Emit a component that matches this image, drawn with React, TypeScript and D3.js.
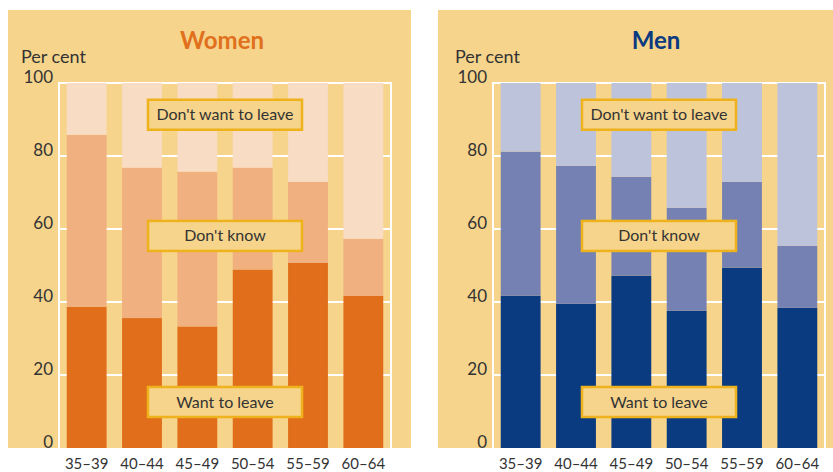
import React from "react";
import * as d3 from "d3";

const ageGroups = ["35–39", "40–44", "45–49", "50–54", "55–59", "60–64"];
const yTicks = [0, 20, 40, 60, 80, 100];
const segmentNames = ["Want to leave", "Don't know", "Don't want to leave"];

// per cent in each age group
const womenWant = [38.7, 35.6, 33.3, 48.9, 50.7, 41.7];
const womenDontKnow = [47.1, 41.2, 42.4, 27.9, 22.2, 15.6];
const womenDontWant = [14.2, 23.2, 24.3, 23.2, 27.1, 42.7];

const menWant = [41.7, 39.5, 47.2, 37.6, 49.4, 38.4];
const menDontKnow = [39.5, 37.8, 27.1, 28.2, 23.5, 17.0];
const menDontWant = [18.8, 22.7, 25.7, 34.2, 27.1, 44.6];

// where the segment label boxes sit (value on the y scale)
const labelLevels = [12.6, 58.1, 91.3];

const BG = "#f6d48b";
const FONT = "Lato, 'Open Sans', sans-serif";

type PanelProps = {
  x0: number;
  bgLeft: number;
  bgWidth: number;
  title: string;
  titleColor: string;
  colors: string[];
  series: number[][];
};

const Panel = ({ x0, bgLeft, bgWidth, title, titleColor, colors, series }: PanelProps) => {
  const plotLeft = x0 + 51;
  const plotRight = x0 + 383;
  const top = 83;
  const bottom = 448;

  const x = d3
    .scaleBand<string>()
    .domain(ageGroups)
    .range([plotLeft, plotRight])
    .paddingInner(0.28)
    .paddingOuter(0.14);
  const y = d3.scaleLinear().domain([0, 100]).range([bottom, top]);

  // stack the three answers per age group
  const rows = ageGroups.map((g, i) => ({
    group: g,
    s0: series[0][i],
    s1: series[1][i],
    s2: series[2][i],
  }));
  const stacked = d3.stack<any>().keys(["s0", "s1", "s2"])(rows);

  const cx = (plotLeft + plotRight) / 2;

  return (
    <g>
      <rect x={bgLeft} y={10} width={bgWidth} height={bottom - 10} fill={BG} />
      <text
        x={x0 + 214}
        y={49}
        textAnchor="middle"
        fontFamily={FONT}
        fontWeight="bold"
        fontSize={24}
        fill={titleColor}
      >
        {title}
      </text>
      <text x={x0 + 13} y={63} fontFamily={FONT} fontSize={18} fill="#333">
        Per cent
      </text>

      {/* frame and grid */}
      <path
        d={`M${plotLeft},${bottom}V${top}H${plotRight}V${bottom}`}
        fill="none"
        stroke="#fff"
        strokeWidth={2}
      />
      {yTicks.slice(1, -1).map((t) => (
        <line
          key={t}
          x1={plotLeft}
          x2={plotRight}
          y1={y(t)}
          y2={y(t)}
          stroke="#fff"
          strokeWidth={2}
        />
      ))}
      {yTicks.map((t) => (
        <text
          key={t}
          x={plotLeft - 6}
          y={y(t)}
          textAnchor="end"
          fontFamily={FONT}
          fontSize={17}
          fill="#333"
        >
          {t}
        </text>
      ))}

      {/* bars */}
      {stacked.map((layer, li) =>
        layer.map((d, i) => (
          <rect
            key={`${li}-${i}`}
            x={x(ageGroups[i])}
            y={y(d[1])}
            width={x.bandwidth()}
            height={y(d[0]) - y(d[1])}
            fill={colors[li]}
          />
        ))
      )}

      {/* segment labels */}
      {segmentNames.map((name, i) => (
        <g key={name} transform={`translate(${cx},${y(labelLevels[i])})`}>
          <rect
            x={-77}
            y={-15}
            width={154}
            height={30}
            fill={BG}
            stroke="#eeb21c"
            strokeWidth={2.5}
          />
          <text
            y={5.5}
            textAnchor="middle"
            fontFamily={FONT}
            fontSize={16}
            fill="#333"
          >
            {name}
          </text>
        </g>
      ))}

      {ageGroups.map((g) => (
        <text
          key={g}
          x={(x(g) as number) + x.bandwidth() / 2}
          y={469}
          textAnchor="middle"
          fontFamily={FONT}
          fontSize={15}
          fill="#333"
        >
          {g}
        </text>
      ))}
    </g>
  );
};

export default function App() {
  return (
    <svg
      width={833}
      height={472}
      style={{ position: "absolute", left: 0, top: 0, background: "#fff" }}
    >
      <Panel
        x0={8}
        bgLeft={8}
        bgWidth={403}
        title="Women"
        titleColor="#e0701c"
        colors={["#e06e1a", "#f0b080", "#f8dcc3"]}
        series={[womenWant, womenDontKnow, womenDontWant]}
      />
      <Panel
        x0={442}
        bgLeft={438}
        bgWidth={400}
        title="Men"
        titleColor="#0a3a80"
        colors={["#0a3a80", "#7581b3", "#bec3dc"]}
        series={[menWant, menDontKnow, menDontWant]}
      />
    </svg>
  );
}
